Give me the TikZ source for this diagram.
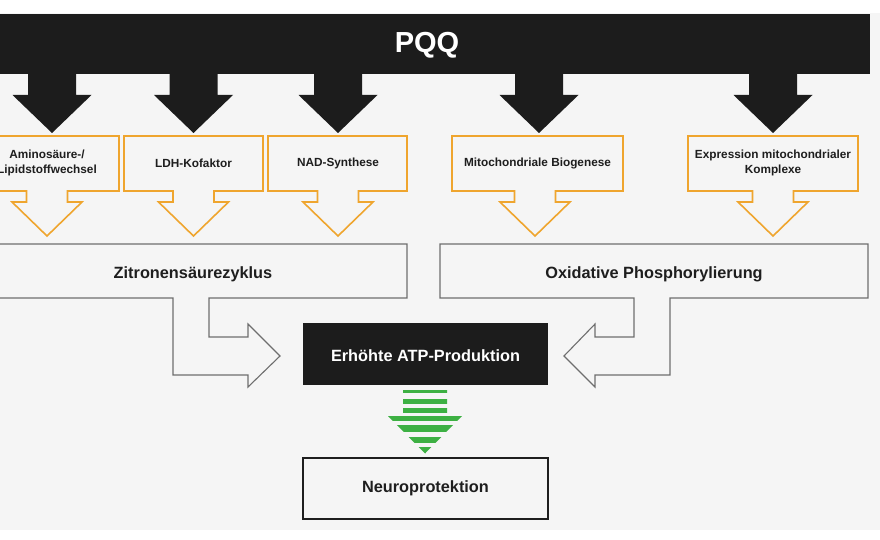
\documentclass[tikz,border=0pt]{standalone}
\usepackage{fontspec}
\setmainfont{Liberation Sans}
\definecolor{bg}{HTML}{F5F5F5}
\definecolor{blk}{HTML}{1C1C1C}
\definecolor{org}{HTML}{EFA52E}
\definecolor{gline}{HTML}{6E6E6E}
\definecolor{grn}{HTML}{3DB043}
\definecolor{txt}{HTML}{1E1E1E}
\tikzset{
  blackarrow/.style={fill=blk, draw=none},
  orangecallout/.style={fill=bg, draw=org, line width=1.6pt, line join=miter},
  graybox/.style={fill=bg, draw=gline, line width=1.1pt, line join=miter},
  smalltxt/.style={font=\bfseries\fontsize{11.8}{15.5}\selectfont, text=txt, align=center},
  midtxt/.style={font=\bfseries\fontsize{16.3}{19}\selectfont, text=txt, align=center},
}
\newcommand{\blackarr}[1]{%
  \fill[blackarrow] (#1-24,73) -- (#1+24,73) -- (#1+24,95) -- (#1+39.5,95) -- (#1,133) -- (#1-39.5,95) -- (#1-24,95) -- cycle;}
\newcommand{\orgcall}[3]{%
  \draw[orangecallout] (#1,136) -- (#2,136) -- (#2,191) -- (#3+20.5,191) -- (#3+20.5,202) -- (#3+35,202) -- (#3,236) -- (#3-35,202) -- (#3-20.5,202) -- (#3-20.5,191) -- (#1,191) -- cycle;}
\begin{document}
\begin{tikzpicture}[x=1pt,y=-1pt]
\useasboundingbox (0,0) rectangle (880,540);
\fill[white] (0,0) rectangle (880,540);
\fill[bg] (0,13) rectangle (880,530);
% PQQ bar
\fill[blk] (0,14) rectangle (870,74);
\node[font=\bfseries\fontsize{29}{30}\selectfont, text=white] (pqq) at (427,45) {PQQ};
\blackarr{52}
\blackarr{193.5}
\blackarr{338}
\blackarr{539}
\blackarr{773}
% orange callouts
\begin{scope}
\clip (0,0) rectangle (880,540);
\orgcall{-19}{119}{47}
\end{scope}
\orgcall{124}{263}{193.5}
\orgcall{268}{407}{338}
\orgcall{452}{623}{535}
\orgcall{688}{858}{773}
\node[smalltxt] (amino) at (47,163) {Aminosäure-/\\Lipidstoffwechsel};
\node[smalltxt] (ldh) at (193.5,163) {LDH-Kofaktor};
\node[smalltxt] (nad) at (338,163) {NAD-Synthese};
\node[smalltxt] (bio) at (537.5,163) {Mitochondriale Biogenese};
\node[smalltxt] (expr) at (773,163) {Expression mitochondrialer\\Komplexe};
% gray boxes with bent arrows
\draw[graybox] (-22,244) -- (407,244) -- (407,298) -- (209,298) -- (209,337) -- (248,337) -- (248,324) -- (280,356) -- (248,387) -- (248,375) -- (173,375) -- (173,298) -- (-22,298) -- cycle;
\draw[graybox] (440,244) -- (868,244) -- (868,298) -- (670,298) -- (670,375) -- (595,375) -- (595,387) -- (564,356) -- (595,324) -- (595,337) -- (634,337) -- (634,298) -- (440,298) -- cycle;
\node[midtxt] (zit) at (193,274) {Zitronensäurezyklus};
\node[midtxt] (oxi) at (654,274) {Oxidative Phosphorylierung};
% ATP box
\fill[blk] (303,323) rectangle (548,385);
\node[midtxt, text=white] (atp) at (425.5,356) {Erhöhte ATP-Produktion};
% green striped arrow
\begin{scope}
\clip (403,388) -- (447,388) -- (447,416) -- (462,416) -- (425,453.5) -- (388,416) -- (403,416) -- cycle;
\foreach \a/\b in {390/393.4, 399/404, 408.3/413.3, 416/420.8, 425/431.7, 436.7/443.3, 446.7/454}
  \fill[grn] (380,\a) rectangle (470,\b);
\end{scope}
% Neuroprotektion
\node[draw=txt, line width=1.5pt, fill=bg, minimum width=245pt, minimum height=61pt, midtxt] (neuro) at (425.5,488.5) {Neuroprotektion};
\end{tikzpicture}
\end{document}
